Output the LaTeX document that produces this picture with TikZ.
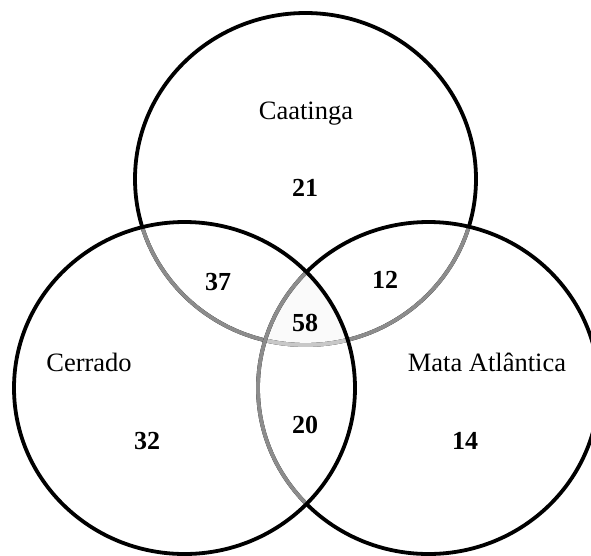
\documentclass[tikz,border=0pt]{standalone}
\usepackage{fontspec}
\setmainfont{Liberation Serif}
\definecolor{arcgray}{HTML}{8C8C8C}
\definecolor{lightarc}{HTML}{C8C8C8}
\definecolor{centerfill}{HTML}{FAFAFA}
\begin{document}
\begin{tikzpicture}[x=1pt,y=-1pt,
  ring/.style={line width=3.8pt},
  rad/.style={x radius=170.5pt, y radius=166pt},
  lbl/.style={font=\fontsize{26.5}{30}\selectfont, anchor=base, inner sep=0pt},
  num/.style={font=\fontsize{26}{30}\selectfont\bfseries, anchor=base, inner sep=0pt}]
\useasboundingbox (0,0) rectangle (591,555);
\clip (0,0) rectangle (591,555);
\coordinate (T) at (305.5,179);
\coordinate (L) at (184.5,388);
\coordinate (R) at (428.5,388);
% centre region fill
\begin{scope}
  \clip (T) ellipse [rad];
  \clip (L) ellipse [rad];
  \fill[centerfill] (R) ellipse [rad];
\end{scope}
% top circle
\draw[ring] (T) ellipse [rad];
\begin{scope}
  \clip (L) ellipse [rad];
  \draw[ring,arcgray] (T) ellipse [rad];
\end{scope}
\begin{scope}
  \clip (R) ellipse [rad];
  \draw[ring,arcgray] (T) ellipse [rad];
\end{scope}
\begin{scope}
  \clip (L) ellipse [rad];
  \clip (R) ellipse [rad];
  \draw[ring,lightarc] (T) ellipse [rad];
\end{scope}
% right circle
\draw[ring] (R) ellipse [rad];
\begin{scope}
  \clip (L) ellipse [rad];
  \draw[ring,arcgray] (R) ellipse [rad];
\end{scope}
% left circle
\draw[ring] (L) ellipse [rad];
% labels
\node[lbl] (caat) at (306,119) {Caatinga};
\node[lbl] (cerr) at (89,371) {Cerrado};
\node[lbl] (mata) at (487,371) {Mata Atlântica};
\node[num] (n21) at (305,196) {21};
\node[num] (n37) at (218,290) {37};
\node[num] (n12) at (385,288) {12};
\node[num] (n58) at (305,331) {58};
\node[num] (n20) at (305,433) {20};
\node[num] (n32) at (147,449) {32};
\node[num] (n14) at (465,449) {14};
\end{tikzpicture}
\end{document}
